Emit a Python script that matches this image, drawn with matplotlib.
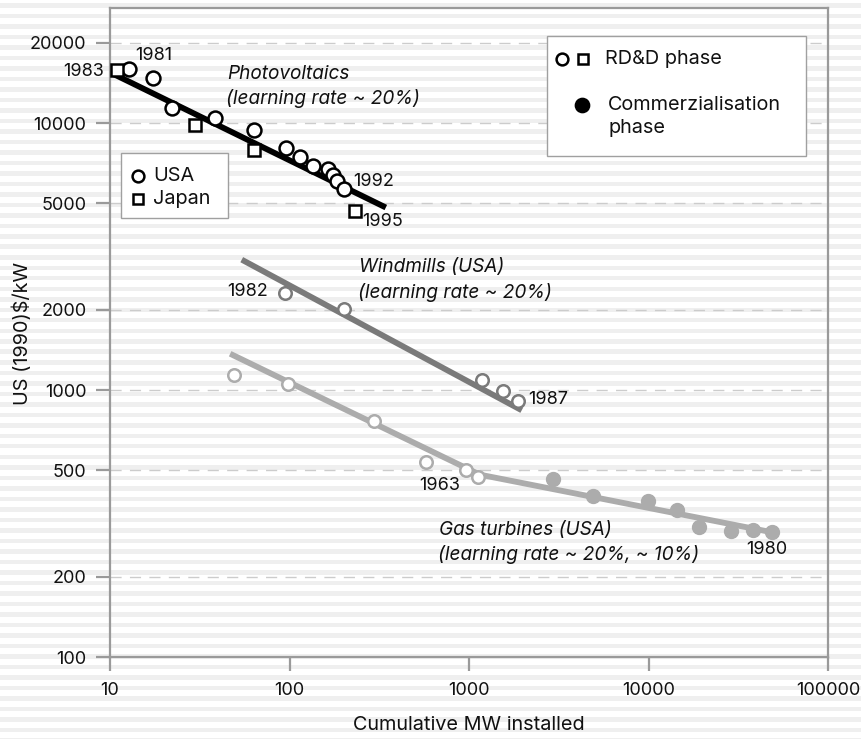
import numpy as np
import matplotlib
matplotlib.use("Agg")
import matplotlib.pyplot as plt
from matplotlib.patches import Rectangle

plt.rcParams['font.family'] = ['Inter', 'DejaVu Sans']

# ---------------- data ----------------
pv_usa_x = [12.8, 17.4, 22.2, 38.6, 63.4, 95.3, 114, 136, 163, 175, 185, 200]
pv_usa_y = [15900, 14800, 11350, 10460, 9410, 8080, 7480, 6920, 6710, 6390, 6060, 5660]
pv_jp_x = [11.0, 29.6, 63.6, 232]
pv_jp_y = [15800, 9800, 7920, 4690]
pv_fit_x = [10.2, 344]
pv_fit_y = [15400, 4830]

wind_x = [94.4, 202, 1178, 1553, 1866]
wind_y = [2320, 2020, 1093, 989, 910]
wind_fit_x = [54.2, 1967]
wind_fit_y = [3080, 840]

gas_rdd_x = [49.3, 98.4, 297, 576, 962, 1117]
gas_rdd_y = [1141, 1056, 763, 537, 503, 472]
gas_com_x = [2925, 4930, 9980, 14350, 19200, 28700, 38400, 48500]
gas_com_y = [464, 400, 383, 356, 308, 297, 300, 293]
gas_fit_x = [46.7, 1150, 51700]
gas_fit_y = [1368, 482, 291]

x_ticks = [10, 100, 1000, 10000, 100000]
y_ticks = [100, 200, 500, 1000, 2000, 5000, 10000, 20000]
x_label = "Cumulative MW installed"
y_label = "US (1990)$/kW"

# ---------------- figure ----------------
W, H = 861, 739
fig = plt.figure(figsize=(W / 100, H / 100), dpi=100)
fig.patch.set_facecolor('white')

def fx(px):
    return px / W

def fy(py):
    return 1 - py / H

# striped background
period = 10.5
y0 = 3.0
k = 0
while y0 + k * period < H:
    top = y0 + k * period
    fig.patches.append(Rectangle((0, fy(top + 4.5)), 1, 4.5 / H, transform=fig.transFigure,
                                 facecolor='#efefef', edgecolor='none', zorder=-5))
    k += 1

ax = fig.add_axes([fx(110), fy(657), fx(828) - fx(110), fy(8) - fy(657)])
ax.set_facecolor('none')
ax.set_xscale('log')
ax.set_yscale('log')
ax.set_xlim(10, 100000)
ax.set_ylim(100, 27000)

spine_c = '#9a9a9a'
for s in ax.spines.values():
    s.set_color(spine_c)
    s.set_linewidth(1.6)

ax.set_xticks(x_ticks)
ax.set_xticklabels([str(t) for t in x_ticks])
ax.set_yticks(y_ticks)
ax.set_yticklabels([str(t) for t in y_ticks])
ax.xaxis.set_minor_locator(matplotlib.ticker.NullLocator())
ax.yaxis.set_minor_locator(matplotlib.ticker.NullLocator())
ax.tick_params(axis='both', direction='out', length=10, width=1.6, color=spine_c,
               labelsize=13, labelcolor='#111111', pad=7)
ax.tick_params(axis='x', pad=8)

for t in y_ticks[1:]:
    ax.axhline(t, color='#cccccc', lw=1.0, ls=(0, (8, 6)), zorder=0.5)

# fits
ax.plot(pv_fit_x, pv_fit_y, color='black', lw=4.2, solid_capstyle='butt', zorder=2)
ax.plot(wind_fit_x, wind_fit_y, color='#7a7a7a', lw=4.2, solid_capstyle='butt', zorder=2)
ax.plot(gas_fit_x, gas_fit_y, color='#acacac', lw=4.2, solid_capstyle='butt',
        solid_joinstyle='round', zorder=2)

# points
ax.plot(pv_usa_x, pv_usa_y, 'o', ms=10, mfc='white', mec='black', mew=1.8, zorder=3)
ax.plot(pv_jp_x, pv_jp_y, 's', ms=8, mfc='white', mec='black', mew=1.8, zorder=3)
ax.plot(wind_x, wind_y, 'o', ms=9, mfc='white', mec='#7a7a7a', mew=1.8, zorder=3)
ax.plot(gas_rdd_x, gas_rdd_y, 'o', ms=9, mfc='white', mec='#acacac', mew=1.8, zorder=3)
ax.plot(gas_com_x, gas_com_y, 'o', ms=10, mfc='#acacac', mec='#acacac', mew=1.0, zorder=3)

fig.text(fx(469), fy(725), x_label, ha='center', va='center', fontsize=14.3, color='#111111')
fig.text(fx(22), fy(333), y_label, ha='center', va='center', rotation=90, fontsize=14.3,
         color='#111111')

# annotations (pixel positions)
def t(px, py, s, ha='left', style='normal', size=13):
    fig.text(fx(px), fy(py), s, ha=ha, va='center', fontsize=size, style=style,
             color='#111111')

t(104, 72, "1983", ha='right')
t(135, 56, "1981")
t(353, 182, "1992")
t(362, 222, "1995")
t(227, 74, "Photovoltaics", style='italic', size=13.7)
t(226, 99, "(learning rate ~ 20%)", style='italic', size=13.7)
t(268, 291, "1982", ha='right')
t(528, 400, "1987")
t(359, 267, "Windmills (USA)", style='italic', size=13.7)
t(358, 293, "(learning rate ~ 20%)", style='italic', size=13.7)
t(440, 485, "1963", ha='center')
t(767, 550, "1980", ha='center')
t(439, 530, "Gas turbines (USA)", style='italic', size=13.7)
t(438, 555, "(learning rate ~ 20%, ~ 10%)", style='italic', size=13.7)

# legend boxes
def box(x0, y0_, x1, y1):
    fig.patches.append(Rectangle((fx(x0), fy(y1)), fx(x1) - fx(x0), fy(y0_) - fy(y1),
                                 transform=fig.transFigure, facecolor='white',
                                 edgecolor='#a0a0a0', lw=1.0, zorder=4))

def mk(px, py, m, ms, mfc, mec='black'):
    fig.add_artist(matplotlib.lines.Line2D([fx(px)], [fy(py)], marker=m, ms=ms, mfc=mfc,
                                           mec=mec, mew=1.8, transform=fig.transFigure,
                                           zorder=5))

box(121, 153, 228, 218)
mk(138, 176, 'o', 8.5, 'white')
mk(138, 199, 's', 6.5, 'white')
t(153, 176, "USA", size=14.3)
t(153, 199, "Japan", size=14.3)

box(547, 36, 806, 156)
mk(562, 59, 'o', 8.5, 'white')
mk(583, 59, 's', 6.5, 'white')
t(605, 59, "RD&D phase", size=14.3)
mk(582, 105, 'o', 9.5, 'black')
t(608, 105, "Commerzialisation", size=14.3)
t(608, 128, "phase", size=14.3)

for txt in fig.texts:
    txt.set_zorder(6)

fig.savefig("out.png", dpi=100)
